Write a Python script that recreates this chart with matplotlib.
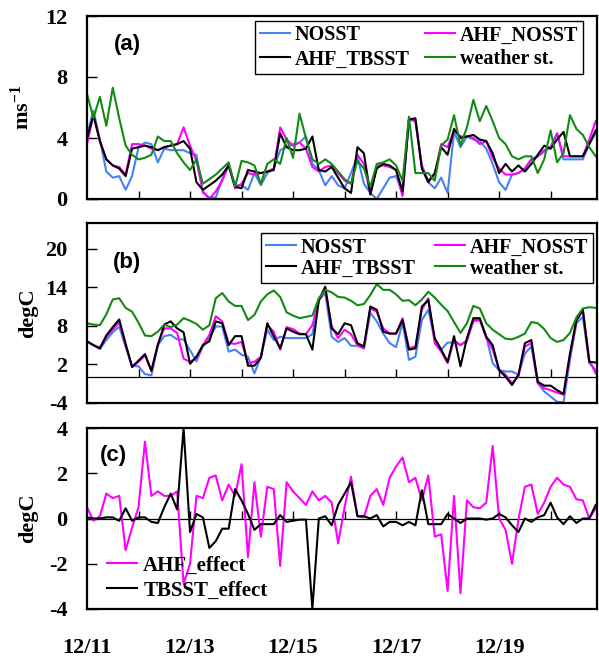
import numpy as np
import matplotlib
matplotlib.use("Agg")
import matplotlib.pyplot as plt

# ---------------- data (3-hourly, starting 12/11 00:00) ----------------
day_labels = ["12/11", "12/13", "12/15", "12/17", "12/19"]
label_days = [0, 2, 4, 6, 8]
minor_days = [1, 2, 3, 4, 5, 6, 7, 8, 9]

# (a) wind speed, m/s
wind_nosst = [4.2, 5.8, 3.9, 1.8, 1.4, 1.5, 0.6, 1.5, 3.4, 3.7, 3.6, 2.4, 3.3, 3.2, 3.2, 3.2, 3.0, 2.9, 0.4, 0.1,
              0.1, 1.3, 2.2, 0.9, 0.9, 0.6, 1.7, 0.9, 1.7, 2.0, 3.2, 3.4, 3.6, 3.7,
              4.1, 2.3, 1.9, 0.9, 1.5, 0.9, 0.7, 1.7, 2.8, 1.0, 0.4, 0.0, 0.7, 1.4, 1.5, 0.3, 5.2, 5.1, 2.1, 1.1,
              0.7, 1.4, 0.4, 4.4, 3.4, 4.1, 3.9, 3.8, 3.3, 2.3, 1.1, 0.6, 1.6, 1.7, 2.0, 2.6, 2.8, 3.1, 3.4, 4.3,
              2.6, 2.6, 2.6, 2.6, 3.6, 4.3]
wind_ahf_nosst = [3.6, 5.5, 3.8, 2.6, 2.2, 2.1, 1.6, 3.6, 3.6, 3.5, 3.3, 3.2, 3.4, 3.5, 3.6, 4.7, 3.5, 2.5, 0.5, 0.0,
                  0.5, 1.2, 2.2, 0.7, 1.0, 1.7, 1.6, 1.7, 1.8, 2.0, 4.7, 3.9, 3.5, 3.7,
                  3.3, 2.1, 1.8, 2.1, 2.2, 1.7, 1.2, 1.0, 2.9, 2.3, 0.3, 2.2, 2.2, 2.1, 1.9, 0.2, 5.3, 5.1, 2.2, 1.2,
                  1.6, 3.6, 3.4, 4.5, 4.1, 4.1, 4.0, 3.6, 3.8, 2.7, 2.0, 1.6, 1.6, 1.7, 2.0, 2.6, 2.8, 3.2, 3.4, 4.3,
                  2.8, 2.8, 2.8, 2.8, 3.9, 5.1]
wind_ahf_tbsst = [4.0, 5.5, 3.8, 2.6, 2.2, 2.0, 1.5, 3.3, 3.4, 3.5, 3.4, 3.2, 3.4, 3.5, 3.6, 3.8, 3.3, 1.1, 0.6, 0.9,
                  1.2, 1.6, 2.2, 0.8, 0.7, 1.9, 1.8, 1.7, 1.8, 1.9, 4.3, 3.4, 3.2, 3.2,
                  3.3, 4.1, 1.9, 1.8, 2.1, 1.4, 0.7, 0.4, 3.4, 3.0, 0.3, 2.0, 2.3, 2.2, 1.9, 0.5, 5.2, 5.3, 2.0, 1.1,
                  1.7, 3.4, 2.9, 4.6, 4.0, 4.1, 4.2, 3.9, 3.8, 3.0, 1.7, 2.3, 1.8, 2.2, 1.8, 2.3, 2.9, 3.5, 3.3, 3.9,
                  4.4, 2.8, 2.8, 2.8, 3.6, 4.5]
wind_station = [6.9, 5.3, 6.7, 4.8, 7.3, 5.3, 3.5, 2.9, 2.6, 2.7, 2.9, 4.1, 3.8, 3.8, 3.0, 2.4, 1.9, 2.6, 1.0, 1.3,
                1.6, 2.0, 2.4, 0.8, 2.5, 2.4, 2.2, 1.0, 2.3, 2.6, 2.3, 4.0, 2.7, 5.6,
                4.0, 2.6, 2.3, 2.6, 2.3, 1.8, 1.3, 1.0, 2.5, 2.0, 0.8, 2.3, 2.4, 2.6, 2.2, 1.2, 5.4, 1.7, 1.7, 1.7,
                1.2, 3.5, 3.9, 5.5, 3.5, 4.7, 6.5, 5.1, 6.1, 5.1, 4.0, 3.6, 2.8, 2.6, 2.8, 2.8, 1.7, 2.6, 4.5, 2.4,
                3.0, 5.5, 4.6, 4.2, 3.4, 2.8]

# (b) air temperature, degC
temp_nosst = [5.5, 5.0, 4.4, 5.8, 7.0, 7.9, 4.7, 1.8, 1.7, 0.5, 0.3, 5.0, 6.4, 6.6, 5.9, 5.9, 4.2, 2.5, 4.8, 6.1,
              7.9, 7.9, 4.0, 4.3, 3.5, 3.2, 0.6, 3.2, 7.4, 5.8, 6.3, 6.1, 6.1, 6.1,
              6.1, 6.7, 12.0, 13.1, 6.3, 5.5, 6.1, 4.9, 4.9, 4.5, 10.0, 8.7, 6.8, 5.3, 4.7, 8.5, 2.7, 3.2, 8.9, 10.5,
              5.8, 4.3, 5.4, 5.4, 5.0, 5.8, 8.7, 8.9, 6.3, 2.2, 1.1, 0.9, 0.9, 0.4, 3.7, 4.8, -0.9, -2.2, -3.0, -3.8,
              -3.9, 2.7, 8.4, 9.4, 2.2, 1.1]
temp_ahf_nosst = [5.6, 5.0, 4.6, 6.3, 7.4, 8.6, 5.0, 1.6, 2.4, 3.4, 1.0, 5.2, 7.6, 7.6, 6.9, 2.9, 2.4, 3.0, 5.0, 6.6,
                  9.5, 8.7, 5.3, 5.2, 5.5, 2.2, 2.4, 3.2, 8.1, 7.1, 4.3, 7.8, 7.5, 6.8,
                  6.7, 8.1, 12.0, 13.6, 7.9, 6.1, 7.4, 6.7, 5.0, 4.5, 10.7, 10.2, 7.6, 6.8, 6.8, 9.2, 4.5, 4.8, 10.5, 12.3,
                  5.3, 4.0, 2.2, 5.8, 5.0, 5.6, 8.9, 8.9, 6.1, 4.3, 1.2, 0.4, -0.9, 0.1, 4.8, 5.3, -0.9, -1.7, -2.0, -2.4,
                  -2.7, 3.2, 8.7, 10.5, 2.7, 0.6]
temp_ahf_tbsst = [5.6, 5.0, 4.5, 6.5, 7.8, 9.0, 5.2, 1.6, 2.6, 3.6, 1.0, 5.0, 8.2, 8.7, 7.6, 7.0, 2.1, 3.2, 5.0, 5.6,
                  8.7, 8.4, 5.0, 6.4, 6.4, 1.8, 1.8, 3.0, 8.4, 6.4, 4.5, 7.6, 7.1, 6.7,
                  6.7, 4.3, 12.0, 14.1, 7.6, 6.7, 8.4, 8.1, 5.3, 4.8, 11.0, 10.5, 7.1, 6.8, 6.8, 8.9, 4.3, 4.5, 11.0, 12.0,
                  6.1, 4.3, 2.4, 6.4, 1.7, 6.1, 9.2, 9.2, 6.3, 5.0, 1.1, 0.1, -1.2, 0.4, 5.3, 5.8, -0.7, -1.3, -1.3, -2.0,
                  -2.6, 3.7, 8.9, 10.5, 2.4, 2.3]
temp_station = [8.4, 8.2, 8.1, 9.8, 12.1, 12.3, 10.8, 10.2, 8.5, 6.5, 6.4, 7.1, 8.2, 7.8, 8.2, 9.2, 8.8, 8.3, 7.4, 8.1,
                12.3, 13.1, 11.8, 11.1, 11.1, 8.9, 9.7, 11.8, 12.9, 13.5, 12.5, 10.1, 9.6, 9.2,
                9.4, 9.6, 12.3, 13.6, 13.2, 12.5, 12.4, 11.9, 11.2, 11.4, 12.8, 14.5, 13.6, 13.6, 12.9, 11.9, 12.0, 11.2,
                12.1, 13.3, 12.4, 11.3, 10.3, 8.6, 6.9, 8.4, 11.1, 10.7, 8.4, 7.4, 6.7, 6.0, 5.9, 6.3, 6.8, 8.6, 8.4,
                7.5, 6.1, 5.5, 5.8, 6.9, 9.3, 10.7, 10.9, 10.8]

# (c) temperature differences, degC
ahf_effect = [0.5, -0.1, 0.1, 1.1, 0.9, 1.0, -1.4, -0.4, 0.5, 3.4, 1.0, 1.2, 1.0, 1.0, 1.2, -2.9, -2.0, 1.0, 0.9, 1.8,
              1.9, 0.8, 1.5, 1.0, 2.4, -1.7, 1.6, -0.8, 1.4, 1.3, -2.1, 1.6, 1.2, 0.9,
              0.6, 1.2, 0.8, 1.0, 0.7, -1.1, 0.5, 1.85, 0.1, 0.05, 1.0, 1.3, 0.6, 1.8, 2.3, 2.7, 1.6, 1.8, 0.8, 1.9,
              -0.8, -0.7, -3.2, 1.0, -3.3, 0.8, 0.5, 0.45, 0.7, 3.2, 0.0, -0.5, -2.0, -0.05, 1.4, 1.5, 0.2, 0.7, 1.4,
              1.8, 1.5, 1.4, 0.85, 0.8, 0.0, 0.45]
tbsst_effect = [0.05, 0.0, 0.0, 0.05, 0.05, -0.1, 0.45, -0.1, 0.05, 0.05, -0.15, -0.2, 0.5, 1.1, 0.4, 4.0, -0.6, 0.2,
                0.05, -1.3, -1.0, -0.45, -0.45, 1.3, 0.8, 0.2, -0.5, -0.25, -0.25, -0.25, 0.15, -0.15, -0.1, -0.05,
                -0.05, -4.0, 0.0, 0.1, -0.3, 0.6, 1.1, 1.6, 0.1, 0.1, 0.0, 0.15, -0.35, -0.15, -0.15, -0.3, -0.15,
                -0.3, 1.25, -0.25, -0.25, -0.25, 0.2, 0.0, -0.2, 0.0, 0.0, 0.0, -0.05, 0.0, 0.2, 0.05, -0.3, -0.6,
                0.0, -0.15, 0.05, 0.15, 0.7, 0.05, -0.25, 0.1, -0.2, 0.0, 0.0, 0.6]

t = np.arange(len(wind_nosst)) / 8.0  # days since 12/11 00:00

# ---------------- style ----------------
BLUE = "#4682f5"
PINK = "#ff00ff"
BLACK = "#000000"
GREEN = "#138a13"
SERIF = "Liberation Serif"
SANS = "Liberation Sans"
LW = 1.5

plt.rcParams["font.family"] = SERIF
plt.rcParams["font.weight"] = "bold"
plt.rcParams["mathtext.fontset"] = "custom"
plt.rcParams["mathtext.rm"] = "Liberation Serif:bold"
plt.rcParams["mathtext.bf"] = "Liberation Serif:bold"
plt.rcParams["mathtext.it"] = "Liberation Serif:bold"

fig = plt.figure(figsize=(5.99, 6.59), dpi=100)
W, H = 599.0, 659.0
left, right = 87.0, 597.0


def make_axes(top, bottom):
    return fig.add_axes([left / W, 1 - bottom / H, (right - left) / W, (bottom - top) / H])


ax_a = make_axes(16, 199)
ax_b = make_axes(223, 403)
ax_c = make_axes(428, 609)


def style_axes(ax, ylim, yticks, ylabel, letter, letter_xy, show_xlabels):
    ax.set_xlim(0, 9.9)
    ax.set_ylim(*ylim)
    ax.set_yticks(yticks)
    ax.set_yticklabels([str(v) for v in yticks])
    ax.tick_params(axis="y", direction="in", length=7, width=1, pad=14,
                   labelsize=16, right=False)
    ax.set_xticks(label_days)
    ax.set_xticklabels(day_labels)
    ax.tick_params(axis="x", length=0, pad=21, labelsize=16, labelbottom=show_xlabels)
    for lab in ax.get_xticklabels() + ax.get_yticklabels():
        lab.set_fontweight("bold")
        lab.set_family(SERIF)
    for sp in ax.spines.values():
        sp.set_linewidth(1.6)
        sp.set_color("black")
    # horizontal axis drawn through zero with day tick marks
    zax = ax.secondary_xaxis(0, transform=ax.transData)
    zax.set_xticks(minor_days)
    zax.tick_params(axis="x", direction="in", length=6, width=1, labelbottom=False)
    zax.spines["bottom"].set_linewidth(0.9)
    ax.set_ylabel(ylabel, fontsize=16, fontweight="bold", family=SERIF)
    ax.text(letter_xy[0], letter_xy[1], letter, transform=ax.transAxes, family=SANS,
            fontsize=16, fontweight="bold", va="center", ha="left")


# (a)
ax_a.plot(t, wind_nosst, color=BLUE, lw=LW, label="NOSST")
ax_a.plot(t, wind_ahf_nosst, color=PINK, lw=LW, label="AHF_NOSST")
ax_a.plot(t, wind_ahf_tbsst, color=BLACK, lw=LW, label="AHF_TBSST")
ax_a.plot(t, wind_station, color=GREEN, lw=LW, label="weather st.")
style_axes(ax_a, (0, 12), [0, 4, 8, 12], r"ms$^{\mathbf{-1}}$", "(a)", (0.052, 0.845), False)
ax_a.yaxis.set_label_coords(-0.105, 0.5)

# (b)
ax_b.plot(t, temp_nosst, color=BLUE, lw=LW, label="NOSST")
ax_b.plot(t, temp_ahf_nosst, color=PINK, lw=LW, label="AHF_NOSST")
ax_b.plot(t, temp_ahf_tbsst, color=BLACK, lw=LW, label="AHF_TBSST")
ax_b.plot(t, temp_station, color=GREEN, lw=LW, label="weather st.")
style_axes(ax_b, (-4, 24), [-4, 2, 8, 14, 20], "degC", "(b)", (0.05, 0.78), False)
ax_b.yaxis.set_label_coords(-0.095, 0.5)

# (c)
ax_c.plot(t, ahf_effect, color=PINK, lw=LW, label="AHF_effect")
ax_c.plot(t, tbsst_effect, color=BLACK, lw=LW, label="TBSST_effect")
style_axes(ax_c, (-4, 4), [-4, -2, 0, 2, 4], "degC", "(c)", (0.025, 0.85), True)
ax_c.yaxis.set_label_coords(-0.095, 0.5)


def legend4(ax, anchor, spacing, colsp):
    h, lab = ax.get_legend_handles_labels()
    order = [0, 2, 1, 3]
    leg = ax.legend([h[i] for i in order], [lab[i] for i in order], ncol=2,
                    loc="upper right", bbox_to_anchor=anchor, borderaxespad=0,
                    prop={"family": SERIF, "weight": "bold", "size": 14.5},
                    frameon=True, fancybox=False, framealpha=1, edgecolor="black",
                    handlelength=1.5, handletextpad=0.25, columnspacing=colsp,
                    labelspacing=spacing, borderpad=0.22)
    leg.get_frame().set_linewidth(1.0)
    return leg


legend4(ax_a, (0.9725, 0.9727), 0.2, 0.75)
legend4(ax_b, (0.992, 0.944), 0.05, 0.95)

ax_c.legend(loc="lower left", bbox_to_anchor=(0.01, -0.035), borderaxespad=0.3,
            prop={"family": SERIF, "weight": "bold", "size": 15},
            frameon=False, handlelength=1.45, handletextpad=0.3, labelspacing=0.25)

fig.savefig("out.png", dpi=100)
